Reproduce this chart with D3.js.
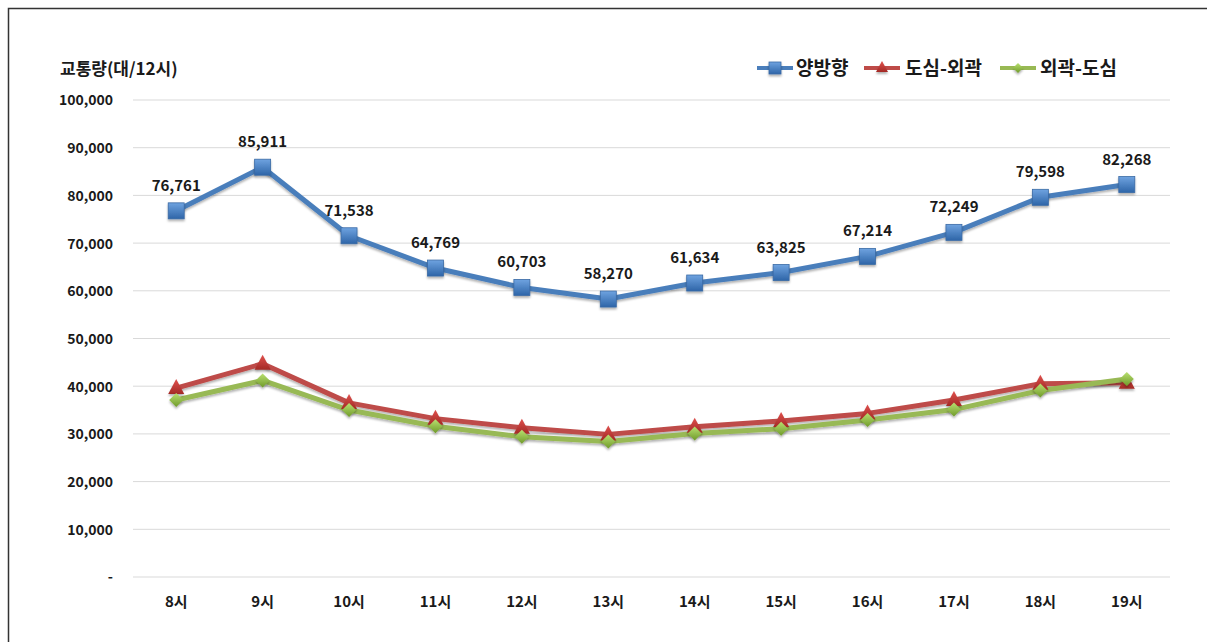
<!DOCTYPE html>
<html><head><meta charset="utf-8">
<script src="https://cdn.jsdelivr.net/npm/d3@7"></script>
<style>
body{margin:0;background:#fff;}
svg text{font-family:"Noto Sans CJK KR","Noto Sans",sans-serif;font-weight:700;fill:#1a1a1a;}
</style></head>
<body><svg id="c" width="1207" height="642"></svg>
<script>
const categories = ["8시","9시","10시","11시","12시","13시","14시","15시","16시","17시","18시","19시"];
const seriesNames = ["양방향","도심-외곽","외곽-도심"];
const both = [76761,85911,71538,64769,60703,58270,61634,63825,67214,72249,79598,82268];
const outbound = [39600,44700,36500,33200,31300,29900,31500,32700,34300,37100,40500,40700];
const inbound = [37100,41200,35000,31600,29400,28400,30100,31100,32900,35100,39100,41500];
const yTicks = [0,10000,20000,30000,40000,50000,60000,70000,80000,90000,100000];
const yTitle = "교통량(대/12시)";
const colors = ["#4a7ebb","#be4b48","#98b954"];

(function(){
const svg = d3.select("#c");
svg.append("rect").attr("x",8.5).attr("y",8.5).attr("width",1240).attr("height",700)
  .attr("fill","none").attr("stroke","#333").attr("stroke-width",1.5);

const pLeft=133, pRight=1170, pTop=100, pBottom=577;
const x = d3.scaleBand().domain(categories).range([pLeft,pRight]);
const y = d3.scaleLinear().domain([0,100000]).range([pBottom,pTop]);
const cx = d => x(d)+x.bandwidth()/2;

const defs = svg.append("defs");
const f = defs.append("filter").attr("id","sh").attr("x","-20%").attr("y","-20%").attr("width","140%").attr("height","160%");
f.append("feDropShadow").attr("dx",0).attr("dy",2).attr("stdDeviation",1.2).attr("flood-color","#000").attr("flood-opacity",0.3);
function grad(id,c1,c2){const g=defs.append("linearGradient").attr("id",id).attr("x1",0).attr("y1",0).attr("x2",0).attr("y2",1);
 g.append("stop").attr("offset","0%").attr("stop-color",c1);g.append("stop").attr("offset","100%").attr("stop-color",c2);}
grad("gb","#6fa3e0","#2e65a8");grad("gr","#e0504d","#a32a26");grad("gg","#b9e070","#6f9a2a");

svg.append("g").selectAll("line").data(yTicks).join("line")
  .attr("x1",pLeft).attr("x2",pRight).attr("y1",d=>y(d)).attr("y2",d=>y(d))
  .attr("stroke","#d9d9d9").attr("stroke-width",1);

const yAxis = d3.axisLeft(y).tickValues(yTicks).tickSize(0).tickPadding(20)
  .tickFormat(d=> d===0 ? "-" : d3.format(",")(d));
const gy = svg.append("g").attr("transform",`translate(${pLeft},0)`).call(yAxis);
gy.select(".domain").remove();
gy.selectAll("text").style("font-size","14px").attr("dy","0.35em");

const xAxis = d3.axisBottom(x).tickSize(0).tickPadding(19);
const gx = svg.append("g").attr("transform",`translate(0,${pBottom})`).call(xAxis);
gx.select(".domain").remove();
gx.selectAll("text").style("font-size","15px");

svg.append("text").attr("x",60).attr("y",75).style("font-size","17px").text(yTitle);

const line = d3.line().x((d,i)=>cx(categories[i])).y(d=>y(d));
const data = [both,outbound,inbound];

data.forEach((arr,k)=>{
  svg.append("path").datum(arr).attr("d",line).attr("fill","none")
    .attr("stroke",colors[k]).attr("stroke-width",5).attr("stroke-linejoin","round")
    .attr("filter","url(#sh)");
});
function marker(g,k,px,py,s){
  if(k===0){g.append("rect").attr("x",px-s).attr("y",py-s).attr("width",2*s).attr("height",2*s).attr("fill","url(#gb)").attr("stroke","#3a6aa5").attr("stroke-width",0.8).attr("filter","url(#sh)");}
  else if(k===1){g.append("path").attr("d",`M${px},${py-s-2}L${px+s+1},${py+s-1}L${px-s-1},${py+s-1}Z`).attr("fill","url(#gr)").attr("filter","url(#sh)");}
  else {g.append("path").attr("d",`M${px},${py-s}L${px+s},${py}L${px},${py+s}L${px-s},${py}Z`).attr("fill","url(#gg)").attr("filter","url(#sh)");}
}
[1,2,0].forEach(k=>{
  const g=svg.append("g");
  data[k].forEach((v,i)=>marker(g,k,cx(categories[i]),y(v),k===0?8:7));
});

svg.append("g").selectAll("text").data(both).join("text")
  .attr("x",(d,i)=>cx(categories[i])).attr("y",d=>y(d)-20)
  .attr("text-anchor","middle").style("font-size","15px")
  .text(d=>d3.format(",")(d));

const lg = svg.append("g");
const items=[{x:757,tx:796},{x:864,tx:905},{x:1000,tx:1040}];
items.forEach((it,k)=>{
  lg.append("line").attr("x1",it.x).attr("x2",it.x+36).attr("y1",68).attr("y2",68).attr("stroke",colors[k]).attr("stroke-width",4);
  marker(lg,k,it.x+18,68,k===0?6:5);
  lg.append("text").attr("x",it.tx).attr("y",68).attr("dy","0.35em").style("font-size","19px").text(seriesNames[k]);
});
})();
</script></body></html>
